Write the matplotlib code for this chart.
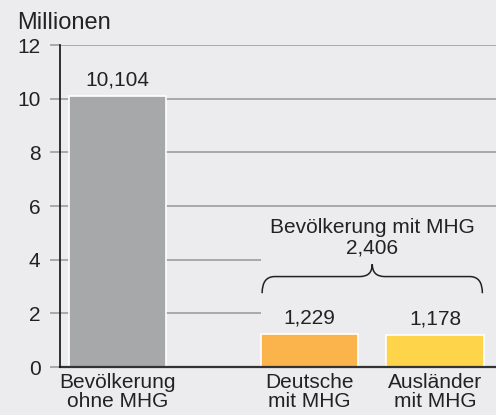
import matplotlib
matplotlib.use("Agg")
import matplotlib.pyplot as plt
from matplotlib.path import Path
from matplotlib.patches import PathPatch

categories = ["Bevölkerung\nohne MHG", "Deutsche\nmit MHG", "Ausländer\nmit MHG"]
values = [10.104, 1.229, 1.178]
value_labels = ["10,104", "1,229", "1,178"]
group_label = "Bevölkerung mit MHG\n2,406"
yticks = [0, 2, 4, 6, 8, 10, 12]
unit_label = "Millionen"

positions = [0, 1.53, 2.53]
colors = ["#a7a8aa", "#fbb34b", "#fed44b"]
bg = "#ececee"
width = 0.775
fs = 15

plt.rcParams['font.family'] = ['Liberation Sans', 'DejaVu Sans']
fig = plt.figure(figsize=(4.96, 4.15), dpi=100, facecolor=bg)
ax = fig.add_axes([60/496, 48/415, 436/496, 322/415])
ax.set_facecolor(bg)
xl = (-0.458, 3.016)
ax.set_xlim(*xl)
ax.set_ylim(0, 12)

# gridlines
left_edge_orange = positions[1] - width / 2
for t in yticks[1:]:
    xmax = left_edge_orange if t in (2, 4) else xl[1]
    ax.hlines(t, xl[0], xmax, color="#a3a3a3", lw=1.3, zorder=1)

ax.bar(positions, values, width=width, color=colors, edgecolor="white",
       linewidth=1.2, zorder=2)
for p, v, lab in zip(positions, values, value_labels):
    ax.text(p, v + 0.6, lab, ha="center", va="center", fontsize=fs, color="#222222")

# brace
xL = positions[1] - width / 2 + 0.01
xR = positions[2] + width / 2 - 0.01
xm = (xL + xR) / 2
yb, yt, yp = 2.75, 3.37, 3.83
r = 0.1
verts = [(xL, yb), (xL, yt), (xL + r, yt),
         (xm - r, yt), (xm, yt), (xm, yp),
         (xm, yt), (xm + r, yt),
         (xR - r, yt), (xR, yt), (xR, yb)]
codes = [Path.MOVETO, Path.CURVE3, Path.CURVE3,
         Path.LINETO, Path.CURVE3, Path.CURVE3,
         Path.CURVE3, Path.CURVE3,
         Path.LINETO, Path.CURVE3, Path.CURVE3]
ax.add_patch(PathPatch(Path(verts, codes), fill=False, lw=1.1, color="#222222", zorder=3))
ax.text(xm, 4.8, group_label, ha="center", va="center", fontsize=fs,
        color="#222222", linespacing=1.1)

ax.set_yticks(yticks)
ax.set_yticklabels([str(t) for t in yticks], fontsize=fs, color="#222222")
ax.tick_params(axis="y", length=7, width=1.3, color="#a3a3a3", pad=7)
ax.set_xticks(positions)
ax.set_xticklabels(categories, fontsize=fs, color="#222222", linespacing=1.02)
ax.tick_params(axis="x", length=0, pad=4)

for s in ["top", "right"]:
    ax.spines[s].set_visible(False)
ax.spines["left"].set_color("#111111")
ax.spines["left"].set_linewidth(1.2)
ax.spines["bottom"].set_color("#333333")
ax.spines["bottom"].set_linewidth(1.6)
ax.spines["left"].set_zorder(4)

fig.text(17/496, 1 - 23/415, unit_label, ha="left", va="center", fontsize=17, color="#222222")

fig.savefig("out.png", dpi=100, facecolor=bg)
